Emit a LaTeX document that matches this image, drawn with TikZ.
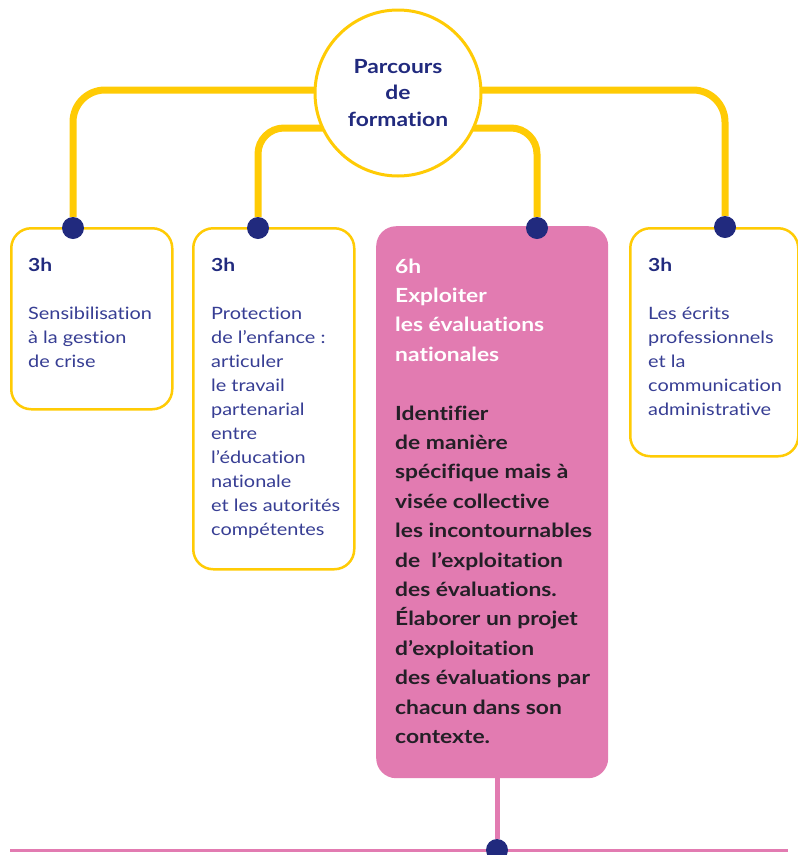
\documentclass[tikz,border=0pt]{standalone}
\usepackage{fontspec}
\setmainfont{Lato}[FakeStretch=1.17, Ligatures=NoCommon]
\usetikzlibrary{backgrounds}
\definecolor{yel}{RGB}{255,203,5}
\definecolor{navy}{RGB}{33,42,126}
\definecolor{bodyblue}{RGB}{55,62,148}
\definecolor{pinkc}{RGB}{226,123,177}
\definecolor{dark}{RGB}{35,31,38}
\begin{document}
\begin{tikzpicture}[x=1pt,y=-1pt,
  box/.style={draw=yel, line width=2.5pt, rounded corners=20pt, fill=white, inner sep=0pt, anchor=north west},
  pinkbox/.style={fill=pinkc, rounded corners=20pt, inner sep=0pt, anchor=north west},
  dot/.style={circle, fill=navy, minimum size=22pt, inner sep=0pt},
  conn/.style={draw=yel, line width=7pt},
  pline/.style={draw=pinkc, line width=5pt},
  hline/.style={draw=pinkc, line width=3pt},
  txt/.style={anchor=base west, inner sep=0pt, text=bodyblue, font=\fontsize{17}{24}\selectfont},
  ptxt/.style={anchor=base west, inner sep=0pt, font=\fontsize{19.5}{29.4}\selectfont\bfseries}]
\useasboundingbox (0,0) rectangle (798,855);

% central circle
\node[circle, draw=yel, line width=3pt, fill=white, minimum size=166pt, inner sep=0pt,
      align=center, text=navy, font=\fontsize{19.5}{26.5}\selectfont\bfseries] (circ) at (398,93)
      {Parcours\\de\\formation};

% boxes
\node[box, minimum width=161pt, minimum height=181pt] (b1) at (10,227) {};
\node[box, minimum width=161pt, minimum height=341pt] (b2) at (192,227) {};
\node[pinkbox, minimum width=232pt, minimum height=552pt] (b3) at (376,226) {};
\node[box, minimum width=168pt, minimum height=228pt] (b4) at (629,227) {};

% dots
\node[dot] (d1) at (73,228) {};
\node[dot] (d2) at (258,228) {};
\node[dot] (d3) at (537,228) {};
\node[dot] (d4) at (725,227) {};
\node[dot] (d5) at (497,850) {};

\coordinate (ol) at (398,90);
\coordinate (il) at (398,128);
\coordinate (hl) at (10,850);
\coordinate (hr) at (788,850);

\begin{pgfonlayer}{background}
  \draw[conn, rounded corners=32pt] (ol) -| (d1);
  \draw[conn, rounded corners=32pt] (ol) -| (d4);
  \draw[conn, rounded corners=26pt] (il) -| (d2);
  \draw[conn, rounded corners=26pt] (il) -| (d3);
  \draw[pline] (d5) -- (d5 |- b3.south);
  \draw[hline] (hl) -- (hr);
\end{pgfonlayer}

% texts
\node[txt] (t1) at (28,271) {\vtop{\baselineskip=24pt
  \hbox{\fontsize{18}{24}\selectfont\bfseries\color{navy}3h}\hbox{}
  \hbox{Sensibilisation}\hbox{à la gestion}\hbox{de crise}}};

\node[txt] (t2) at (211,271) {\vtop{\baselineskip=24pt
  \hbox{\fontsize{18}{24}\selectfont\bfseries\color{navy}3h}\hbox{}
  \hbox{Protection}\hbox{de l’enfance :}\hbox{articuler}\hbox{le travail}
  \hbox{partenarial}\hbox{entre}\hbox{l’éducation}\hbox{nationale}
  \hbox{et les autorités}\hbox{compétentes}}};

\node[ptxt] (t3) at (395,273) {\vtop{\baselineskip=29.4pt
  \hbox{\color{white}6h}\hbox{\color{white}Exploiter}
  \hbox{\color{white}les évaluations}\hbox{\color{white}nationales}\hbox{}
  \hbox{\color{dark}Identifier}\hbox{\color{dark}de manière}
  \hbox{\color{dark}spécifique mais à}\hbox{\color{dark}visée collective}
  \hbox{\color{dark}les incontournables}\hbox{\color{dark}de \ l’exploitation}
  \hbox{\color{dark}des évaluations.}\hbox{\color{dark}Élaborer un projet}
  \hbox{\color{dark}d’exploitation}\hbox{\color{dark}des évaluations par}
  \hbox{\color{dark}chacun dans son}\hbox{\color{dark}contexte.}}};

\node[txt] (t4) at (648,271) {\vtop{\baselineskip=24pt
  \hbox{\fontsize{18}{24}\selectfont\bfseries\color{navy}3h}\hbox{}
  \hbox{Les écrits}\hbox{professionnels}\hbox{et la}
  \hbox{communication}\hbox{administrative}}};
\end{tikzpicture}
\end{document}
